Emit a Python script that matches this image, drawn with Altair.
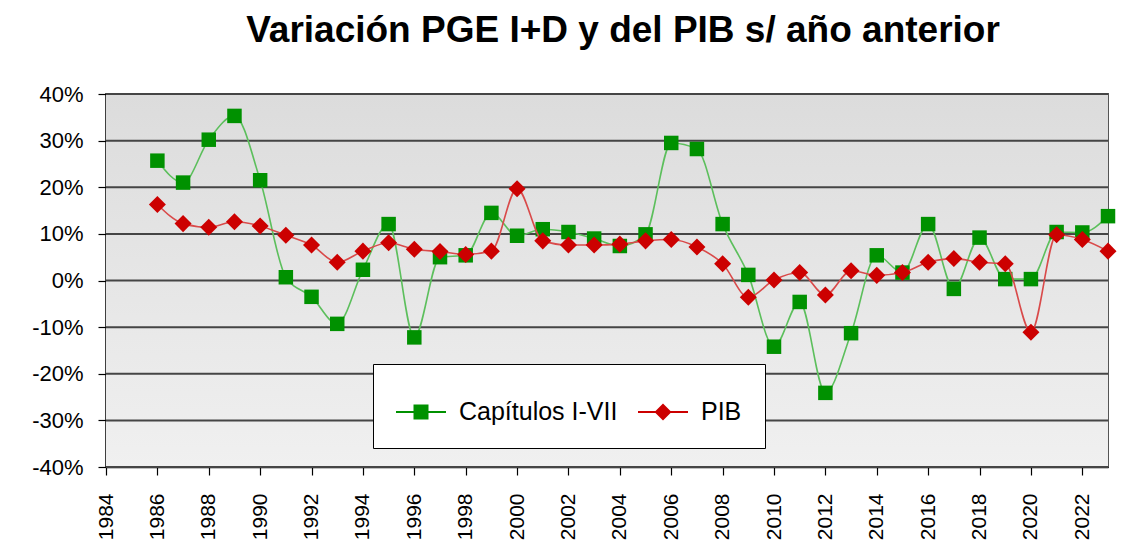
import altair as alt
import pandas as pd

# ---- data ----
years = list(range(1986, 2024))
capitulos = [25.7, 21.0, 30.2, 35.3, 21.5, 0.7, -3.5, -9.3, 2.3, 12.1, -12.2, 5.0, 5.4,
             14.5, 9.6, 11.0, 10.4, 9.0, 7.4, 9.9, 29.5, 28.2, 12.1, 1.2, -14.2, -4.6, -24.1,
             -11.3, 5.4, 1.7, 12.1, -1.8, 9.2, 0.3, 0.3, 10.4, 10.3, 13.8]
pib = [16.3, 12.2, 11.4, 12.6, 11.7, 9.7, 7.6, 3.9, 6.3, 8.1, 6.7, 6.2, 5.6,
       6.3, 19.7, 8.5, 7.6, 7.6, 7.8, 8.5, 8.8, 7.2, 3.6, -3.6, 0.1, 1.7, -3.1,
       2.1, 1.1, 1.7, 3.9, 4.7, 3.9, 3.6, -11.1, 9.8, 8.8, 6.3]
series_names = ["Capítulos I-VII", "PIB"]
x_tick_years = list(range(1984, 2023, 2))
y_tick_values = [-0.4, -0.3, -0.2, -0.1, 0.0, 0.1, 0.2, 0.3, 0.4]
title_text = "Variación PGE I+D y del PIB s/ año anterior"

df = pd.DataFrame({
    "year": years + years,
    "serie": [series_names[0]] * len(years) + [series_names[1]] * len(years),
    "valor": [v / 100 for v in capitulos] + [v / 100 for v in pib],
})
grid_df = pd.DataFrame({"valor": y_tick_values})

W, H = 1002, 373
GREEN_LINE = "#5cbf5c"
GREEN_MARK = "#009100"
RED_LINE = "#d94a4a"
RED_MARK = "#cc0000"
FONT = "Liberation Sans"

x_enc = alt.X(
    "year:Q",
    scale=alt.Scale(domain=[1984, 2023], nice=False, zero=False),
    axis=alt.Axis(values=x_tick_years, format="d", labelAngle=-90, title=None, grid=False,
                  tickSize=8, labelPadding=18, labelFontSize=21, labelFont=FONT,
                  labelColor="black", domainColor="black", domainWidth=1.5,
                  tickColor="black", tickWidth=1.2, labelFlush=False, labelOverlap=False),
)
y_enc = alt.Y(
    "valor:Q",
    scale=alt.Scale(domain=[-0.4, 0.4], nice=False, zero=False),
    axis=alt.Axis(values=y_tick_values, labelExpr="round(datum.value*100) + '%'", title=None,
                  grid=False, tickSize=8, labelPadding=15,
                  labelFontSize=22, labelFont=FONT, labelColor="black", domainColor="black",
                  domainWidth=1.5, tickColor="black", tickWidth=1.2, labelFlush=False,
                  labelOverlap=False),
)

background = alt.Chart(pd.DataFrame({"k": [0]})).mark_rect(
    color=alt.LinearGradient(
        gradient="linear", x1=0, y1=0, x2=0, y2=1,
        stops=[alt.GradientStop(offset=0, color="#dcdcdc"),
               alt.GradientStop(offset=1, color="#f0f0f0")],
    )
).encode(x=alt.value(0), x2=alt.value(W), y=alt.value(0), y2=alt.value(H))

grid = alt.Chart(grid_df).mark_rule(color="#454545", strokeWidth=2).encode(y=y_enc)

base = alt.Chart(df).encode(x=x_enc, y=y_enc)

is_cap = alt.datum.serie == series_names[0]
is_pib = alt.datum.serie == series_names[1]

green_line = base.transform_filter(is_cap).mark_line(color=GREEN_LINE, strokeWidth=1.6,
                                                     interpolate="monotone")
green_pts = base.transform_filter(is_cap).mark_point(shape="square", filled=True, opacity=1,
                                                      color=GREEN_MARK, size=210)
red_line = base.transform_filter(is_pib).mark_line(color=RED_LINE, strokeWidth=1.6,
                                                   interpolate="monotone")
red_pts = base.transform_filter(is_pib).mark_point(shape="diamond", filled=True, opacity=1,
                                                    color=RED_MARK, size=290)

legend_props = dict(orient="none", legendX=267, legendY=270, direction="horizontal", title=None,
                    fillColor="white", strokeColor="black", padding=23, symbolSize=2500,
                    labelFontSize=25, labelFont=FONT, labelColor="black", labelOffset=13,
                    columnPadding=20, symbolStrokeWidth=0, symbolOpacity=1)

green_sym = "M-1,-0.04H1V0.04H-1Z M-0.3,-0.3H0.3V0.3H-0.3Z"
red_sym = "M-1,-0.04H1V0.04H-1Z M0,-0.34L0.34,0L0,0.34L-0.34,0Z"

legend_layer = base.transform_filter("false").mark_point(filled=True, opacity=1).encode(
    color=alt.Color("serie:N", scale=alt.Scale(domain=series_names, range=[GREEN_MARK, RED_MARK]),
                    legend=alt.Legend(**legend_props)),
    shape=alt.Shape("serie:N", scale=alt.Scale(domain=series_names, range=[green_sym, red_sym]),
                    legend=alt.Legend(**legend_props)),
)

chart = alt.layer(background, grid, green_line, green_pts, red_line, red_pts,
                  legend_layer).properties(
    width=W,
    height=H,
    autosize=alt.AutoSizeParams(type="none"),
    padding={"left": 98, "top": 86, "right": 9, "bottom": 75},
    title=alt.TitleParams(title_text, fontSize=37, font=FONT, fontWeight="bold", color="black",
                          anchor="middle", offset=4, dx=16, baseline="alphabetic"),
).configure_view(
    stroke="#555555",
    strokeWidth=2,
)

chart.save("out.html", embed_options={"renderer": "svg", "actions": False})
